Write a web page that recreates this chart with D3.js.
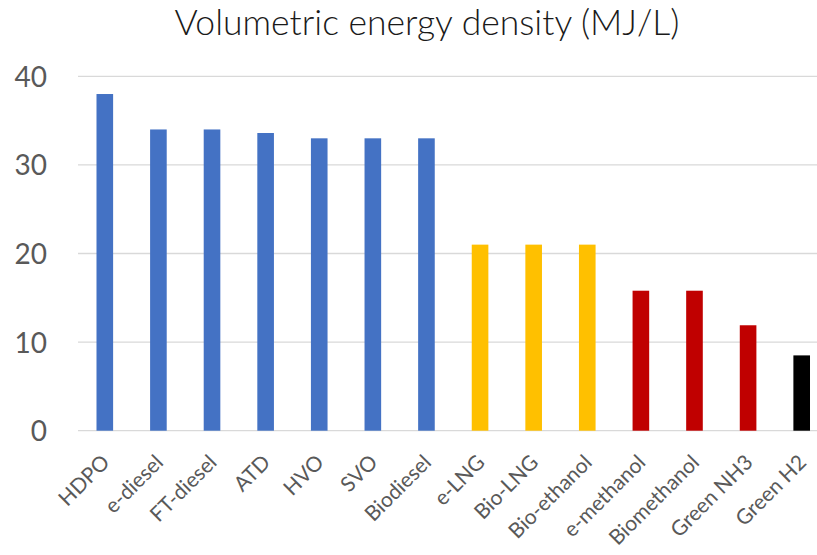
<!DOCTYPE html>
<html><head><meta charset="utf-8">
<script src="https://cdn.jsdelivr.net/npm/d3@7"></script>
<style>body{margin:0;background:#fff;} svg{display:block;}</style>
</head><body>
<svg id="chart" width="817" height="555"></svg>
<script>
const categories = ["HDPO","e-diesel","FT-diesel","ATD","HVO","SVO","Biodiesel","e-LNG","Bio-LNG","Bio-ethanol","e-methanol","Biomethanol","Green NH3","Green H2"];
const values = [38, 34, 34, 33.6, 33, 33, 33, 21, 21, 21, 15.8, 15.8, 11.9, 8.5];
const colors = ["#4472C4","#4472C4","#4472C4","#4472C4","#4472C4","#4472C4","#4472C4","#FFC000","#FFC000","#FFC000","#C00000","#C00000","#C00000","#000000"];
const yTicks = [0, 10, 20, 30, 40];
const title = "Volumetric energy density (MJ/L)";
const FONT = "Lato, 'Open Sans', sans-serif";

const svg = d3.select("#chart");
const x = d3.scaleBand().domain(categories).range([78, 828.5]).paddingInner(0.69).paddingOuter(0.345);
const y = d3.scaleLinear().domain([0, 40]).range([430.7, 76.3]);

svg.append("g").selectAll("line").data(yTicks).join("line")
  .attr("x1", 78).attr("x2", 817)
  .attr("y1", d => y(d)).attr("y2", d => y(d))
  .attr("stroke", "#d9d9d9").attr("stroke-width", 1.3);

const yAxis = d3.axisLeft(y).tickValues(yTicks).tickSize(0).tickPadding(0);
const gy = svg.append("g").attr("transform", "translate(47,0)").call(yAxis);
gy.select(".domain").remove();
gy.selectAll("text").attr("font-family", FONT).attr("font-size", 28).attr("fill", "#595959").attr("dy", "0.36em");

svg.append("g").selectAll("rect").data(categories).join("rect")
  .attr("x", d => x(d)).attr("width", x.bandwidth())
  .attr("y", (d,i) => y(values[i])).attr("height", (d,i) => y(0) - y(values[i]))
  .attr("fill", (d,i) => colors[i]);

const xAxis = d3.axisBottom(x).tickSize(0).tickPadding(0);
const gx = svg.append("g").attr("transform", `translate(0,${y(0)})`).call(xAxis);
gx.select(".domain").remove();
gx.selectAll("text")
  .attr("font-family", FONT).attr("font-size", 21).attr("fill", "#595959")
  .attr("text-anchor", "end").attr("dy", null).attr("y", 0)
  .attr("transform", "translate(6,33) rotate(-45)");

svg.append("text").attr("x", 427).attr("y", 35).attr("text-anchor", "middle")
  .attr("font-family", FONT).attr("font-weight", 300).attr("font-size", 35.5).attr("fill", "#1a1a1a")
  .text(title);
</script>
</body></html>
